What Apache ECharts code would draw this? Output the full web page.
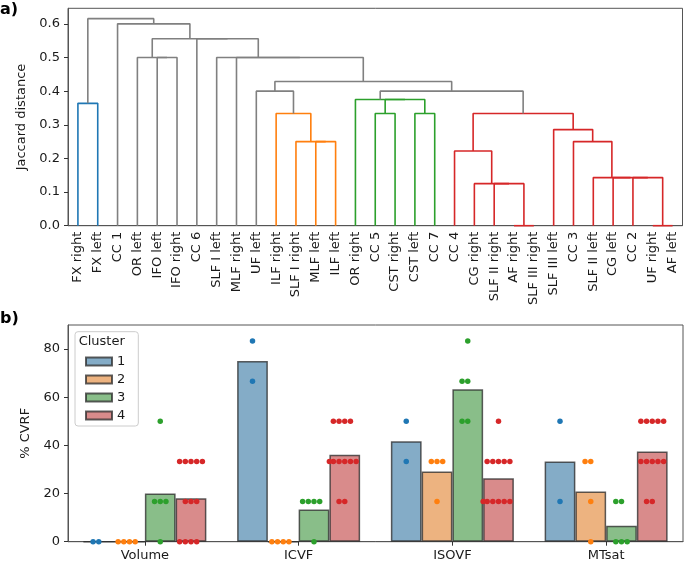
<!DOCTYPE html>
<html><head><meta charset="utf-8">
<script src="https://cdn.jsdelivr.net/npm/echarts@6/dist/echarts.min.js"></script>
<style>html,body{margin:0;padding:0;background:#fff}#c{width:685px;height:563px}</style>
</head><body><div id="c"></div>
<script>
// ---------- a) dendrogram data ----------
const leaves = ['FX right','FX left','CC 1','OR left','IFO left','IFO right','CC 6','SLF I left','MLF right','UF left',
  'ILF right','SLF I right','MLF left','ILF left','OR right','CC 5','CST right','CST left','CC 7','CC 4',
  'CG right','SLF II right','AF right','SLF III right','SLF III left','CC 3','SLF II left','CG left','CC 2','UF right','AF left'];
// merges: [child A, child B, Jaccard distance, cluster ('0' = above threshold)]; ids >= 31 refer to merge (id-31)
const mergeA = [22,29,21,20,28,27,26,19,12,11,25,24,10,15,17,38,0,44,14,9,49,50,4,3,8,7,6,54,2,47];
const mergeB = [23,30,31,33,32,35,36,34,13,39,37,41,40,16,18,42,1,45,48,43,46,51,5,53,52,55,56,57,58,59];
const mergeHeight = [0,0,0.125,0.125,0.1429,0.1429,0.1429,0.2222,0.25,0.25,0.25,0.2857,0.3333,0.3333,0.3333,0.3333,0.3636,0.375,0.375,0.4,0.4,0.4286,0.5,0.5,0.5,0.5,0.5556,0.5556,0.6,0.6154];
const mergeCluster = ['4','4','4','4','4','4','4','4','2','2','4','4','2','3','3','4','1','3','3','0','0','0','0','0','0','0','0','0','0','0'];
const yTicksTop = [0,0.1,0.2,0.3,0.4,0.5,0.6];

// ---------- b) bar + swarm data ----------
const measures = ['Volume','ICVF','ISOVF','MTsat'];
const clusterNames = ['1','2','3','4'];
const barCluster1 = [0,75,41.67,33.33];
const barCluster2 = [0,0,29.17,20.83];
const barCluster3 = [20,13.33,63.33,6.67];
const barCluster4 = [18.06,36.11,26.39,37.5];
const ptsCluster1 = [[0,0],[83.33,66.67],[50,33.33],[50,16.67]];
const ptsCluster2 = [[0,0,0,0],[0,0,0,0],[33.33,33.33,33.33,16.67],[33.33,33.33,16.67,0]];
const ptsCluster3 = [[50,16.67,16.67,16.67,0],[16.67,16.67,16.67,16.67,0],[83.33,66.67,66.67,50,50],[16.67,16.67,0,0,0]];
const ptsCluster4 = [
  [33.33,33.33,33.33,33.33,33.33,16.67,16.67,16.67,0,0,0,0],
  [50,50,50,50,33.33,33.33,33.33,33.33,33.33,33.33,16.67,16.67],
  [50,33.33,33.33,33.33,33.33,33.33,16.67,16.67,16.67,16.67,16.67,16.67],
  [50,50,50,50,50,33.33,33.33,33.33,33.33,33.33,16.67,16.67]];
const yTicksBottom = [0,20,40,60,80];

// ---------- styling ----------
const FONT = 'DejaVu Sans';
const linkColors = {'0':'#808080','1':'#1f77b4','2':'#ff7f0e','3':'#2ca02c','4':'#d62728'};
const barFill = ['rgba(50,116,161,0.6)','rgba(225,129,44,0.6)','rgba(58,146,58,0.6)','rgba(192,61,62,0.6)'];
const dotColors = ['#1f77b4','#ff7f0e','#2ca02c','#d62728'];
const barData = [barCluster1,barCluster2,barCluster3,barCluster4];
const ptsData = [ptsCluster1,ptsCluster2,ptsCluster3,ptsCluster4];

// dendrogram layout (scipy convention: leaf i at 5+10i)
const N = leaves.length;
const nodeX = [], nodeY = [];
for (let i = 0; i < N; i++) { nodeX[i] = 5 + 10*i; nodeY[i] = 0; }
const series = [];
for (let m = 0; m < mergeA.length; m++) {
  const a = mergeA[m], b = mergeB[m], h = mergeHeight[m];
  const xa = nodeX[a], xb = nodeX[b];
  series.push({
    type:'line', xAxisIndex:1, yAxisIndex:0, silent:true, showSymbol:false, animation:false, clip:false,
    data:[[xa,nodeY[a]],[xa,h],[xb,h],[xb,nodeY[b]]],
    lineStyle:{color:linkColors[mergeCluster[m]], width:1.6}, z:3
  });
  nodeX[N+m] = (xa+xb)/2; nodeY[N+m] = h;
}

// bars
for (let k = 0; k < 4; k++) {
  series.push({
    name: clusterNames[k], type:'bar', xAxisIndex:2, yAxisIndex:1, data: barData[k],
    barGap:'0%', barCategoryGap:'20%', animation:false,
    itemStyle:{color:barFill[k], borderColor:'rgba(40,40,40,0.75)', borderWidth:1.5}
  });
}
// swarm points (beeswarm layout: centre, then alternate left/right, clamped to bar width)
const dotStep = 0.037, halfW = 0.1;
for (let k = 0; k < 4; k++) {
  const data = [];
  ptsData[k].forEach((vals, c) => {
    const counts = {};
    vals.forEach(v => {
      const n = counts[v] || 0; counts[v] = n + 1;
      let off = 0;
      if (n > 0) { const s = Math.ceil(n/2); off = (n % 2 === 1 ? -1 : 1) * s * dotStep; }
      off = Math.max(-halfW, Math.min(halfW, off));
      data.push([c + (k - 1.5)*0.2 + off, v]);
    });
  });
  series.push({
    name:'pts'+clusterNames[k], type:'scatter', xAxisIndex:3, yAxisIndex:1, data, symbolSize:5.5,
    clip:false, animation:false, silent:true, z:5, itemStyle:{color:dotColors[k], opacity:1}
  });
}

const axisTxt = {color:'#1a1a1a', fontFamily:FONT, fontSize:13};
const tickStyle = {show:true, length:4, lineStyle:{color:'#333', width:1}};
const lineOn = {show:true, onZero:false, lineStyle:{color:'#555', width:1}};
const chart = echarts.init(document.getElementById('c'), null, {renderer:'canvas'});
chart.setOption({
  animation:false,
  textStyle:{fontFamily:FONT},
  grid:[
    {left:68, top:8.3, width:614.5, height:217.4, show:true, borderColor:'#555', borderWidth:1, backgroundColor:'transparent'},
    {left:68, top:325, width:615, height:216.7, show:true, borderColor:'#555', borderWidth:1, backgroundColor:'transparent'}
  ],
  xAxis:[
    {type:'category', gridIndex:0, data:leaves, boundaryGap:true, axisLine:lineOn, axisTick:{show:false},
     axisLabel:Object.assign({rotate:90, interval:0, margin:6}, axisTxt)},
    {type:'value', gridIndex:0, min:0, max:N*10, show:false, position:'top', axisLine:{onZero:false}},
    {type:'category', gridIndex:1, data:measures, boundaryGap:true, axisLine:lineOn,
     axisTick:Object.assign({alignWithLabel:true}, tickStyle),
     axisLabel:Object.assign({margin:7}, axisTxt)},
    {type:'value', gridIndex:1, min:-0.5, max:3.5, show:false, position:'top', axisLine:{onZero:false}}
  ],
  yAxis:[
    {type:'value', gridIndex:0, min:0, max:0.6462, name:'Jaccard distance', nameLocation:'middle', nameGap:36,
     nameTextStyle:axisTxt, splitLine:{show:false}, axisLine:lineOn,
     axisTick:Object.assign({customValues:yTicksTop}, tickStyle),
     axisLabel:Object.assign({customValues:yTicksTop, formatter:v=>v.toFixed(1), margin:8}, axisTxt)},
    {type:'value', gridIndex:1, min:0, max:90, name:'% CVRF', nameLocation:'middle', nameGap:32,
     nameTextStyle:axisTxt, splitLine:{show:false}, axisLine:lineOn,
     axisTick:Object.assign({customValues:yTicksBottom}, tickStyle),
     axisLabel:Object.assign({customValues:yTicksBottom, margin:8}, axisTxt)}
  ],
  legend:{
    data:clusterNames, orient:'vertical', left:80, top:349, itemWidth:26, itemHeight:8, itemGap:3,
    icon:'rect', textStyle:{color:'#1a1a1a', fontFamily:FONT, fontSize:13, lineHeight:15, padding:[0,0,0,0]},
    selectedMode:false
  },
  graphic:[
    {type:'rect', shape:{x:75, y:331.7, width:63.3, height:94.3, r:3}, style:{fill:'rgba(255,255,255,0.8)', stroke:'#ccc', lineWidth:1}, z:0},
    {type:'text', x:101.7, y:341.7, style:{text:'Cluster', fontFamily:FONT, fontSize:13, fill:'#1a1a1a', textAlign:'center', textVerticalAlign:'middle'}, z:10},
    {type:'text', x:0, y:2, style:{text:'a)', fontFamily:FONT, fontSize:16, fontWeight:'bold', fill:'#000'}},
    {type:'text', x:0, y:311, style:{text:'b)', fontFamily:FONT, fontSize:16, fontWeight:'bold', fill:'#000'}}
  ],
  series
});
</script></body></html>
